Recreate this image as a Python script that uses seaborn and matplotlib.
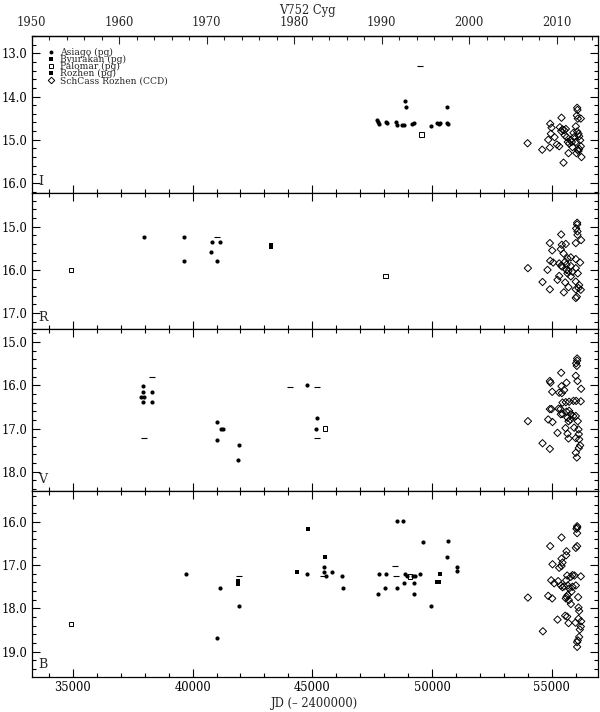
import matplotlib
matplotlib.use("Agg")
import matplotlib.pyplot as plt
from matplotlib.lines import Line2D
from matplotlib.ticker import MultipleLocator, FixedLocator, FormatStrFormatter, NullFormatter
import seaborn as sns

# ---- I band ----
i_asiago_jd = [47694, 47736, 47778, 48056, 48111, 48500, 48528, 48750, 48833, 48861,
               48903, 49167, 49250, 49972, 50222, 50278, 50334, 50625, 50625, 50667]
i_asiago_mag = [14.55, 14.60, 14.63, 14.60, 14.61, 14.59, 14.65, 14.65, 14.65, 14.11,
                14.24, 14.63, 14.61, 14.69, 14.61, 14.63, 14.61, 14.24, 14.61, 14.64]
i_palomar_jd = [49556]
i_palomar_mag = [14.88]
i_limit_jd = [49500]
i_limit_mag = [13.29]
i_ccd_jd = [53987, 54598, 54917, 54848, 54931, 54987, 54959, 55112, 55209, 55306,
            55403, 55334, 55390, 55445, 55515, 55584, 55542, 55626, 55487, 55695,
            55667, 55723, 55792, 55834, 55862, 55903, 55931, 56001, 56043, 56056,
            56070, 56084, 56209, 56001, 56056, 56112, 56140, 56181, 56209, 56084,
            56028, 56237, 56140, 56112]
i_ccd_mag = [15.08, 15.23, 15.18, 15.00, 14.63, 14.72, 14.86, 14.94, 15.11, 15.15,
             14.49, 14.71, 14.80, 14.76, 14.78, 14.75, 14.90, 14.94, 15.53, 15.31,
             15.05, 15.09, 15.00, 15.05, 15.17, 14.84, 14.94, 15.05, 14.44, 14.26,
             14.31, 14.51, 14.51, 14.69, 14.81, 14.86, 14.92, 15.01, 15.15, 15.23,
             15.31, 15.40, 15.21, 15.26]

# ---- R band ----
r_asiago_jd = [37958, 39651, 39651, 40817, 41125, 40763, 41000]
r_asiago_mag = [15.25, 15.23, 15.79, 15.36, 15.36, 15.58, 15.79]
r_rozhen_jd = [43276, 43276]
r_rozhen_mag = [15.42, 15.46]
r_palomar_jd = [34917, 48055]
r_palomar_mag = [16.00, 16.14]
r_limit_jd = [41000]
r_limit_mag = [15.24]
r_ccd_jd = [56056, 56056, 56014, 56070, 56070, 56222, 55389, 54917, 56000, 55014,
            55417, 55583, 55375, 55486, 54931, 55056, 55306, 55389, 55417, 55653,
            55792, 56000, 56181, 55556, 55611, 55792, 54000, 54819, 55611, 55695,
            55653, 55861, 56000, 56083, 55792, 55306, 55236, 54611, 55556, 55695,
            56000, 56139, 56111, 56208, 56000, 54917, 55500, 56000, 56042]
r_ccd_mag = [14.91, 14.95, 15.04, 15.11, 15.19, 15.31, 15.18, 15.38, 15.38, 15.55,
             15.42, 15.40, 15.52, 15.62, 15.79, 15.83, 15.85, 15.90, 15.92, 15.73,
             15.71, 15.75, 15.83, 15.81, 15.88, 15.91, 15.96, 16.00, 16.00, 16.02,
             16.08, 16.04, 15.96, 16.08, 16.15, 16.14, 16.23, 16.28, 16.29, 16.40,
             16.27, 16.35, 16.42, 16.46, 16.45, 16.45, 16.52, 16.65, 16.62]

# ---- V band ----
v_asiago_jd = [37929, 37929, 38318, 37860, 37958, 37929, 38292, 41000, 41167, 41250,
               41000, 41929, 41888, 44763, 45180, 45152]
v_asiago_mag = [16.02, 16.15, 16.15, 16.26, 16.26, 16.39, 16.39, 16.86, 17.00, 17.00,
                17.27, 17.39, 17.73, 16.00, 16.75, 17.00]
v_palomar_jd = [45527]
v_palomar_mag = [17.00]
v_limit_jd = [38318, 37972, 44055, 45208, 45208]
v_limit_mag = [15.81, 17.23, 16.03, 16.03, 17.23]
v_ccd_jd = [56056, 56056, 56014, 56042, 55389, 56000, 56070, 54917, 54944, 55611,
            55403, 55014, 55306, 55417, 55514, 56222, 54917, 54986, 55445, 55583,
            55722, 55903, 56014, 56208, 55361, 55278, 55375, 55445, 55611, 55722,
            55792, 55889, 56000, 55653, 55695, 55778, 56083, 56111, 55931, 54000,
            54847, 55028, 55570, 55236, 55653, 55695, 56000, 56125, 56139, 56181,
            56125, 56000, 56042, 54611, 54917]
v_ccd_mag = [15.38, 15.43, 15.49, 15.55, 15.71, 15.78, 15.90, 15.90, 15.94, 15.94,
             16.02, 16.15, 16.17, 16.18, 16.11, 16.08, 16.55, 16.55, 16.40, 16.39,
             16.38, 16.36, 16.36, 16.37, 16.55, 16.54, 16.67, 16.66, 16.61, 16.59,
             16.67, 16.71, 16.71, 16.75, 16.83, 16.79, 16.83, 17.02, 16.98, 16.83,
             16.79, 16.85, 16.99, 17.10, 17.12, 17.23, 17.22, 17.13, 17.25, 17.39,
             17.45, 17.56, 17.67, 17.34, 17.47]

# ---- B band ----
b_asiago_jd = [39721, 41125, 41929, 41000, 44792, 45500, 45500, 45833, 45580, 46222,
               46263, 47777, 48055, 47750, 48042, 48527, 48792, 48527, 48875, 48943,
               49194, 49277, 48818, 49250, 49263, 49514, 49610, 49972, 50653, 50611,
               51042, 51055]
b_asiago_mag = [17.21, 17.54, 17.94, 18.69, 17.20, 17.05, 17.15, 17.15, 17.24, 17.24,
                17.54, 17.21, 17.21, 17.67, 17.54, 15.99, 15.99, 17.54, 17.20, 17.24,
                17.24, 17.24, 17.41, 17.41, 17.67, 17.21, 16.46, 17.94, 16.45, 16.80,
                17.05, 17.14]
b_byurakan_jd = [50194, 50305]
b_byurakan_mag = [17.40, 17.40]
b_rozhen_jd = [41888, 41888, 44817, 44360, 45542, 50333]
b_rozhen_mag = [17.36, 17.44, 16.17, 17.15, 16.81, 17.21]
b_palomar_jd = [34917, 49084]
b_palomar_mag = [18.36, 17.26]
b_limit_jd = [41929, 45450, 48472, 48500]
b_limit_mag = [17.25, 17.25, 17.02, 17.25]
b_ccd_jd = [54000, 54625, 54931, 55028, 54848, 55014, 54973, 55098, 55237, 55264,
            55403, 55403, 55445, 55403, 55612, 55598, 55306, 55376, 55445, 55515,
            55639, 55598, 55667, 55723, 55612, 55709, 55792, 55584, 55667, 55820,
            55862, 56001, 55556, 55639, 55695, 55945, 55862, 55792, 56209, 56056,
            56056, 56028, 56056, 56056, 56001, 56098, 56112, 56140, 56112, 56223,
            55987, 56209, 56167, 56140, 56084, 56056, 56056]
b_ccd_mag = [17.75, 18.53, 16.56, 16.98, 17.71, 17.77, 17.35, 17.42, 18.26, 17.37,
             16.36, 16.85, 16.94, 17.02, 16.68, 16.77, 17.06, 17.47, 17.51, 17.49,
             17.24, 17.35, 17.47, 17.54, 17.73, 17.81, 17.90, 17.77, 17.69, 17.61,
             17.50, 17.47, 18.17, 18.19, 18.34, 17.24, 17.23, 17.27, 17.26, 16.13,
             16.10, 16.16, 16.26, 16.56, 16.60, 17.74, 17.98, 18.06, 18.24, 18.30,
             18.33, 18.42, 18.49, 18.66, 18.74, 18.78, 18.89]

band_names = ["I", "R", "V", "B"]
band_ylims = [(16.23, 12.60), (17.37, 14.22), (18.45, 14.70), (19.58, 15.29)]
year_ticks = [1950, 1960, 1970, 1980, 1990, 2000, 2010]
legend_labels = ["Asiago (pg)", "Byurakan (pg)", "Palomar (pg)", "Rozhen (pg)",
                 "SchCass Rozhen (CCD)"]

sns.set_theme(style="ticks")
plt.rcParams["font.family"] = ["DejaVu Serif", "DejaVu Sans"]
plt.rcParams["axes.linewidth"] = 0.9

JD1950 = 33282.5
x_left, x_right = JD1950, 56940


def jd2yr(jd):
    return 1950 + (jd - JD1950) / 365.25


def yr2jd(yr):
    return JD1950 + (yr - 1950) * 365.25


def pg(ax, x, y, kind):
    if len(x) == 0:
        return
    if kind == "asiago":
        sns.scatterplot(x=x, y=y, ax=ax, marker="o", s=9, color="black", linewidth=0)
    elif kind == "byurakan":
        sns.scatterplot(x=x, y=y, ax=ax, marker="s", s=6, color="black", linewidth=0)
    elif kind == "palomar":
        sns.scatterplot(x=x, y=y, ax=ax, marker="s", s=11, facecolor="none",
                        edgecolor="black", linewidth=0.7)
    elif kind == "rozhen":
        sns.scatterplot(x=x, y=y, ax=ax, marker="s", s=11, color="black", linewidth=0)
    elif kind == "ccd":
        sns.scatterplot(x=x, y=y, ax=ax, marker="D", s=14, facecolor="none",
                        edgecolor="black", linewidth=0.7)
    elif kind == "limit":
        sns.scatterplot(x=x, y=y, ax=ax, marker="_", s=22, color="black", linewidth=0.8)


fig = plt.figure(figsize=(6.0, 7.12), dpi=100)
ranges = [lo - hi for lo, hi in band_ylims]
gs = fig.add_gridspec(4, 1, height_ratios=ranges, hspace=0,
                      left=0.0528, right=0.9972, top=0.9494, bottom=0.0496)
axes = [fig.add_subplot(gs[k]) for k in range(4)]

pg(axes[0], i_asiago_jd, i_asiago_mag, "asiago")
pg(axes[0], i_palomar_jd, i_palomar_mag, "palomar")
pg(axes[0], i_limit_jd, i_limit_mag, "limit")
pg(axes[0], i_ccd_jd, i_ccd_mag, "ccd")

pg(axes[1], r_asiago_jd, r_asiago_mag, "asiago")
pg(axes[1], r_rozhen_jd, r_rozhen_mag, "rozhen")
pg(axes[1], r_palomar_jd, r_palomar_mag, "palomar")
pg(axes[1], r_limit_jd, r_limit_mag, "limit")
pg(axes[1], r_ccd_jd, r_ccd_mag, "ccd")

pg(axes[2], v_asiago_jd, v_asiago_mag, "asiago")
pg(axes[2], v_palomar_jd, v_palomar_mag, "palomar")
pg(axes[2], v_limit_jd, v_limit_mag, "limit")
pg(axes[2], v_ccd_jd, v_ccd_mag, "ccd")

pg(axes[3], b_asiago_jd, b_asiago_mag, "asiago")
pg(axes[3], b_byurakan_jd, b_byurakan_mag, "byurakan")
pg(axes[3], b_rozhen_jd, b_rozhen_mag, "rozhen")
pg(axes[3], b_palomar_jd, b_palomar_mag, "palomar")
pg(axes[3], b_limit_jd, b_limit_mag, "limit")
pg(axes[3], b_ccd_jd, b_ccd_mag, "ccd")

for k, ax in enumerate(axes):
    ax.set_xlim(x_left, x_right)
    ax.set_ylim(*band_ylims[k])
    ax.set_xlabel("")
    ax.set_ylabel("")
    ax.xaxis.set_major_locator(MultipleLocator(5000))
    ax.xaxis.set_minor_locator(MultipleLocator(1000))
    ax.yaxis.set_major_locator(MultipleLocator(1.0))
    ax.yaxis.set_minor_locator(MultipleLocator(0.2))
    ax.yaxis.set_major_formatter(FormatStrFormatter("%.1f"))
    ax.tick_params(which="both", direction="in", top=True, right=True,
                   labelsize=8.3, colors="black", width=0.8)
    ax.tick_params(which="major", length=6, pad=3)
    ax.tick_params(which="minor", length=3)
    if k < 3:
        ax.xaxis.set_major_formatter(NullFormatter())
    for sp in ax.spines.values():
        sp.set_color("black")
    ax.annotate(band_names[k], (0, 0), xycoords="axes fraction", xytext=(5, 6),
                textcoords="offset points", ha="left", va="baseline", fontsize=9)

axes[0].tick_params(which="both", top=False)
top = axes[0].secondary_xaxis("top", functions=(jd2yr, yr2jd))
top.xaxis.set_major_locator(FixedLocator(year_ticks))
top.xaxis.set_minor_locator(MultipleLocator(2))
top.tick_params(which="both", direction="in", labelsize=8.3, width=0.8, pad=5)
top.tick_params(which="major", length=6)
top.tick_params(which="minor", length=3)

axes[3].set_xlabel("JD (\u2013 2400000)", fontsize=8.3, labelpad=2)

handles = [
    Line2D([], [], ls="none", marker="o", ms=2.8, color="black", mew=0),
    Line2D([], [], ls="none", marker="s", ms=2.3, color="black", mew=0),
    Line2D([], [], ls="none", marker="s", ms=3.3, mfc="none", mec="black", mew=0.7),
    Line2D([], [], ls="none", marker="s", ms=3.3, color="black", mew=0),
    Line2D([], [], ls="none", marker="D", ms=3.3, mfc="none", mec="black", mew=0.7),
]
axes[0].legend(handles, legend_labels, loc="upper left", bbox_to_anchor=(0.015, 0.965),
               frameon=False, fontsize=6.6, handlelength=0.9, handletextpad=0.6,
               labelspacing=-0.22, borderpad=0.2)

fig.text(0.512, 0.995, "V752 Cyg", ha="center", va="top", fontsize=8.3)

fig.savefig("out.png", dpi=100)
